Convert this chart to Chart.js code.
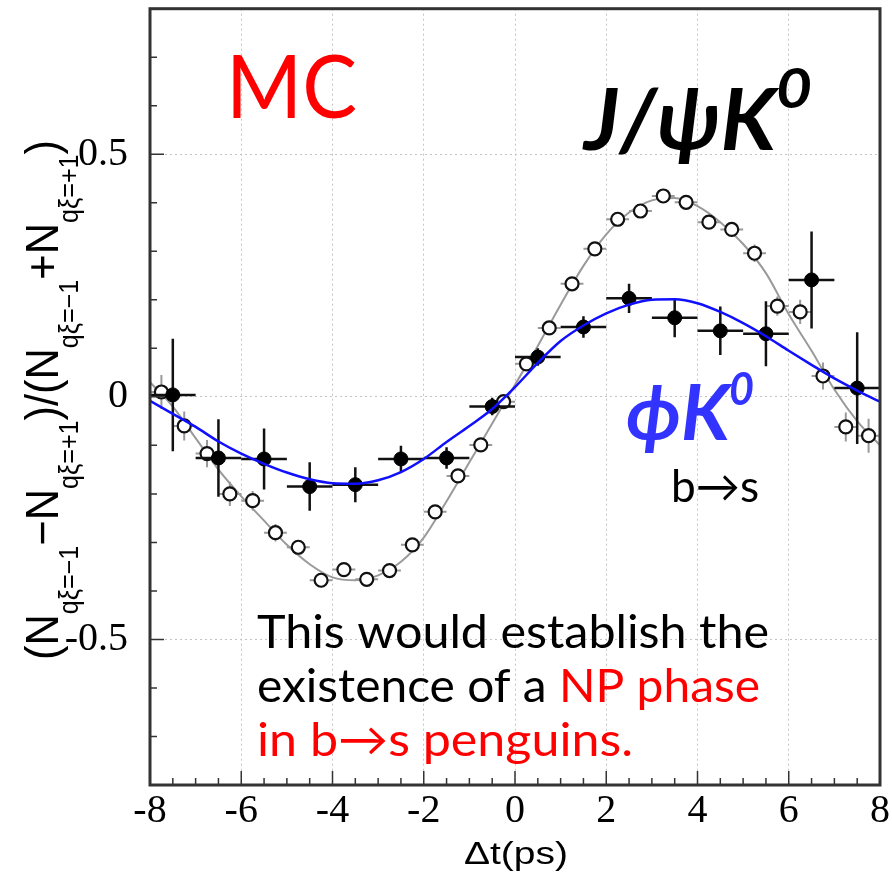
<!DOCTYPE html>
<html>
<head>
<meta charset="utf-8">
<script src="https://cdn.jsdelivr.net/npm/chart.js@4.4.0/dist/chart.umd.min.js"></script>
<style>
  html, body { margin: 0; padding: 0; background: #fff; }
  #wrap { width: 892px; height: 875px; }
</style>
</head>
<body>
<div id="wrap"><canvas id="asymChart" width="892" height="875"></canvas></div>
<script>
// axis ticks
const xTicks = [-8, -6, -4, -2, 0, 2, 4, 6, 8];
const yTicks = [-0.5, 0, 0.5];

// phi K0 MC points (1 ps bins) and errors
const phiX = [-7.5, -6.5, -5.5, -4.5, -3.5, -2.5, -1.5, -0.5, 0.5, 1.5, 2.5, 3.5, 4.5, 5.5, 6.5, 7.5];
const phiY = [0.004, -0.126, -0.128, -0.185, -0.181, -0.128, -0.126, -0.02, 0.082, 0.144, 0.203, 0.163, 0.136, 0.13, 0.241, 0.018];
const phiErr = [0.116, 0.08, 0.063, 0.05, 0.036, 0.027, 0.022, 0.018, 0.018, 0.022, 0.03, 0.04, 0.05, 0.067, 0.10, 0.115];

// J/psi K0 MC points (0.5 ps bins) and errors
const psiX = [-7.75, -7.25, -6.75, -6.25, -5.75, -5.25, -4.75, -4.25, -3.75, -3.25, -2.75, -2.25, -1.75, -1.25, -0.75, -0.25,
              0.25, 0.75, 1.25, 1.75, 2.25, 2.75, 3.25, 3.75, 4.25, 4.75, 5.25, 5.75, 6.25, 6.75, 7.25, 7.75];
const psiY = [0.01, -0.06, -0.117, -0.2, -0.214, -0.28, -0.31, -0.378, -0.356, -0.376, -0.358, -0.305, -0.237, -0.163, -0.099, -0.01,
              0.068, 0.142, 0.233, 0.305, 0.366, 0.383, 0.414, 0.401, 0.36, 0.345, 0.296, 0.187, 0.175, 0.043, -0.062, -0.08];
const psiErr = [0.035, 0.03, 0.028, 0.025, 0.02, 0.018, 0.015, 0.012, 0.012, 0.012, 0.012, 0.012, 0.012, 0.012, 0.012, 0.012,
                0.012, 0.012, 0.012, 0.012, 0.012, 0.012, 0.012, 0.012, 0.012, 0.015, 0.018, 0.02, 0.025, 0.028, 0.03, 0.035];

// fitted curves
const fitX = [-8, -7.5, -7, -6.5, -6, -5.5, -5, -4.5, -4, -3.5, -3, -2.5, -2, -1.5, -1, -0.5, 0,
              0.5, 1, 1.5, 2, 2.5, 3, 3.5, 4, 4.5, 5, 5.5, 6, 6.5, 7, 7.5, 8];
const psiFit = [0.03, -0.02, -0.085, -0.15, -0.205, -0.255, -0.305, -0.345, -0.372, -0.378, -0.368, -0.34, -0.29, -0.215, -0.135, -0.055, 0.025,
                0.105, 0.19, 0.27, 0.335, 0.38, 0.405, 0.41, 0.393, 0.36, 0.315, 0.255, 0.17, 0.095, 0.015, -0.05, -0.1];
const phiFit = [-0.008, -0.035, -0.062, -0.092, -0.117, -0.138, -0.156, -0.17, -0.178, -0.179, -0.172, -0.155, -0.128, -0.093, -0.06, -0.025, 0.02,
                0.07, 0.115, 0.147, 0.172, 0.19, 0.2, 0.201, 0.193, 0.175, 0.152, 0.125, 0.095, 0.066, 0.038, 0.013, -0.01];

const pts = (xs, ys) => xs.map((x, i) => ({ x: x, y: ys[i] }));

// error bars drawn under each marker set
const errorBars = {
  id: 'errorBars',
  beforeDatasetDraw(chart, args) {
    const ds = chart.data.datasets[args.index];
    if (!ds.errY) return;
    const { ctx, scales: { x, y } } = chart;
    ctx.save();
    ctx.strokeStyle = ds.errColor;
    ctx.lineWidth = ds.errWidth;
    ds.data.forEach((p, i) => {
      const px = x.getPixelForValue(p.x), py = y.getPixelForValue(p.y);
      ctx.beginPath();
      ctx.moveTo(x.getPixelForValue(p.x - ds.halfBin), py);
      ctx.lineTo(x.getPixelForValue(p.x + ds.halfBin), py);
      ctx.moveTo(px, y.getPixelForValue(p.y - ds.errY[i]));
      ctx.lineTo(px, y.getPixelForValue(p.y + ds.errY[i]));
      ctx.stroke();
    });
    ctx.restore();
  }
};

// box frame with inward ticks (ROOT style)
const frame = {
  id: 'frame',
  afterDatasetsDraw(chart) {
    const { ctx, chartArea: a, scales: { x, y } } = chart;
    ctx.save();
    ctx.strokeStyle = '#333';
    ctx.lineWidth = 1.5;
    ctx.beginPath();
    for (let k = -8; k <= 8; k++) {
      const py = y.getPixelForValue(k / 10);
      const len = k % 5 === 0 ? 14 : 7;
      ctx.moveTo(a.left, py); ctx.lineTo(a.left + len, py);
    }
    for (let k = -16; k <= 16; k++) {
      const px = x.getPixelForValue(k / 2);
      const len = k % 4 === 0 ? 14 : 7;
      ctx.moveTo(px, a.bottom); ctx.lineTo(px, a.bottom - len);
    }
    ctx.stroke();
    ctx.lineWidth = 3;
    ctx.strokeRect(a.left, a.top, a.right - a.left, a.bottom - a.top);
    ctx.restore();
  }
};

const SANS = 'Lato, "Open Sans", "DejaVu Sans", sans-serif';

// draw a run of coloured pieces squeezed to a given width
function fitRun(ctx, parts, x, base, size, width, style) {
  ctx.font = style + ' ' + size + 'px ' + SANS;
  const total = parts.reduce((s, p) => s + ctx.measureText(p[0]).width, 0);
  ctx.save();
  ctx.translate(x, base);
  ctx.scale(width / total, 1);
  let cx = 0;
  parts.forEach(p => {
    ctx.fillStyle = p[1];
    ctx.fillText(p[0], cx, 0);
    cx += ctx.measureText(p[0]).width;
  });
  ctx.restore();
}

const labels = {
  id: 'labels',
  afterDraw(chart) {
    const ctx = chart.ctx;
    ctx.save();
    ctx.textBaseline = 'alphabetic';
    ctx.textAlign = 'left';

    fitRun(ctx, [['MC', '#ff0000']], 226, 118, 88, 131, 'normal');

    fitRun(ctx, [['J/ψK', '#000']], 584, 150, 86, 192, 'italic bold');
    fitRun(ctx, [['0', '#000']], 776, 108, 56, 36, 'italic bold');

    fitRun(ctx, [['ϕK', '#3333ff']], 626, 440, 76, 104, 'italic bold');
    fitRun(ctx, [['0', '#3333ff']], 729, 405, 46, 25, 'italic bold');

    fitRun(ctx, [['b→s', '#000']], 671, 502, 44, 88, 'normal');

    fitRun(ctx, [['This would establish the', '#000']], 257, 648, 47, 512, 'normal');
    fitRun(ctx, [['existence of a ', '#000'], ['NP phase', '#ff0000']], 257, 702, 47, 503, 'normal');
    fitRun(ctx, [['in b→s penguins.', '#ff0000']], 257, 756, 47, 376, 'normal');

    // x axis title
    ctx.font = '31px "Liberation Sans", Arial, sans-serif';
    const tw = ctx.measureText('Δt(ps)').width;
    ctx.save();
    ctx.translate(516, 864);
    ctx.scale(104 / tw, 1);
    ctx.fillStyle = '#000';
    ctx.textAlign = 'center';
    ctx.fillText('Δt(ps)', 0, 0);
    ctx.restore();

    // y axis title with subscripts, rotated
    const segs = [['(N', 0], ['qξ=−1', 1], ['−N', 0], ['qξ=+1', 1], [')/(N', 0], ['qξ=−1', 1], ['+N', 0], ['qξ=+1', 1], [')', 0]];
    const mainFont = '38px "Liberation Sans", Arial, sans-serif';
    const subFont = '22px "Liberation Sans", Arial, sans-serif';
    let total = 0;
    segs.forEach(s => { ctx.font = s[1] ? subFont : mainFont; total += ctx.measureText(s[0]).width; });
    ctx.save();
    ctx.translate(58, 400);
    ctx.rotate(-Math.PI / 2);
    ctx.scale(520 / total, 1.22);
    ctx.fillStyle = '#000';
    ctx.textAlign = 'left';
    let cx = -total / 2;
    segs.forEach(s => {
      ctx.font = s[1] ? subFont : mainFont;
      ctx.fillText(s[0], cx, s[1] ? 16 : 0);
      cx += ctx.measureText(s[0]).width;
    });
    ctx.restore();
    ctx.restore();
  }
};

const gridOpts = { color: '#c4c4c4', lineWidth: 1, drawTicks: false };
const tickFont = { family: '"Liberation Serif", "Times New Roman", serif', size: 40 };

new Chart(document.getElementById('asymChart').getContext('2d'), {
  type: 'scatter',
  data: {
    datasets: [
      {
        label: 'φK0 fit',
        data: pts(fitX, phiFit),
        showLine: true,
        borderColor: '#1010ff',
        borderWidth: 2.5,
        pointRadius: 0,
        cubicInterpolationMode: 'monotone',
        order: 0
      },
      {
        label: 'φK0 MC',
        data: pts(phiX, phiY),
        pointRadius: 7,
        pointBackgroundColor: '#000',
        pointBorderColor: '#000',
        errY: phiErr, halfBin: 0.5, errColor: '#111', errWidth: 2.5,
        order: 1
      },
      {
        label: 'J/ψK0 MC',
        data: pts(psiX, psiY),
        pointRadius: 6.5,
        pointBackgroundColor: '#fff',
        pointBorderColor: '#111',
        pointBorderWidth: 2.2,
        errY: psiErr, halfBin: 0.25, errColor: '#999', errWidth: 2,
        order: 2
      },
      {
        label: 'J/ψK0 fit',
        data: pts(fitX, psiFit),
        showLine: true,
        borderColor: '#9a9a9a',
        borderWidth: 2,
        pointRadius: 0,
        cubicInterpolationMode: 'monotone',
        order: 3
      }
    ]
  },
  options: {
    responsive: false,
    animation: false,
    layout: { padding: { top: 8, right: 12, left: 0, bottom: 0 } },
    plugins: { legend: { display: false }, tooltip: { enabled: false } },
    scales: {
      x: {
        type: 'linear', min: -8, max: 8,
        afterBuildTicks: s => { s.ticks = xTicks.map(v => ({ value: v })); },
        afterFit: s => { s.height = 90; s.paddingLeft = 0; s.paddingRight = 0; },
        grid: gridOpts,
        border: { display: false, dash: [2, 3] },
        ticks: { font: tickFont, color: '#000', padding: 2, maxRotation: 0, autoSkip: false }
      },
      y: {
        type: 'linear', min: -0.8, max: 0.8,
        afterBuildTicks: s => { s.ticks = yTicks.map(v => ({ value: v })); },
        afterFit: s => { s.width = 150; s.paddingTop = 0; s.paddingBottom = 0; },
        grid: gridOpts,
        border: { display: false, dash: [2, 3] },
        ticks: { font: tickFont, color: '#000', padding: 22, autoSkip: false }
      }
    }
  },
  plugins: [errorBars, frame, labels]
});
</script>
</body>
</html>
